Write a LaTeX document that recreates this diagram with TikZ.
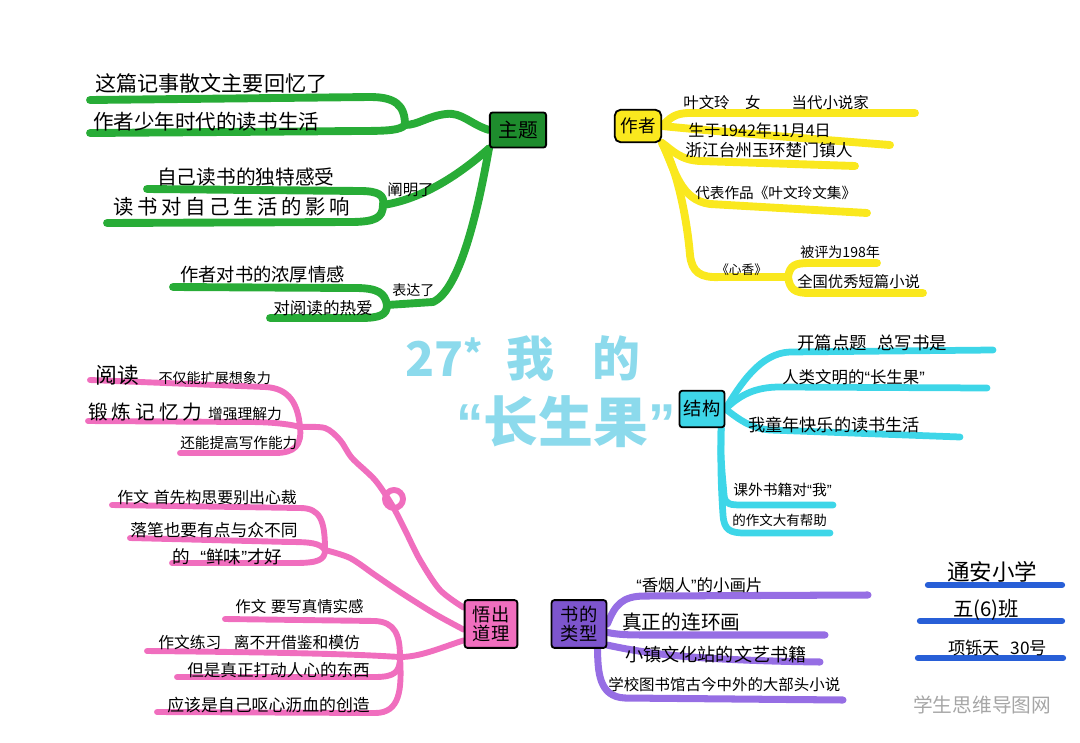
\documentclass[tikz,border=0pt]{standalone}
\usepackage{fontspec}
\setmainfont{Noto Sans CJK SC}
\newfontfamily\qtfont{Liberation Sans}
\usetikzlibrary{backgrounds}
\definecolor{zgreen}{RGB}{40,172,55}
\definecolor{zgreenbox}{RGB}{30,140,45}
\definecolor{zyellow}{RGB}{250,232,30}
\definecolor{zcyan}{RGB}{62,214,232}
\definecolor{zpink}{RGB}{240,110,190}
\definecolor{zpurple}{RGB}{150,110,228}
\definecolor{zpurplebox}{RGB}{125,85,205}
\definecolor{zblue}{RGB}{40,95,215}
\definecolor{ztitle}{RGB}{140,218,236}
\newcommand{\fsz}[1]{\fontsize{#1pt}{#1pt}\selectfont}
\newcommand{\qo}{{\qtfont “}}
\newcommand{\qc}{{\qtfont ”}}
\begin{document}
\begin{tikzpicture}[x=0.025cm, y=-0.025cm,
    lbl/.style={anchor=west, inner sep=0pt},
    topic/.style={draw=black, line width=1.3pt, rounded corners=2pt, inner sep=1pt, align=center},
    gline/.style={draw=zgreen, line width=5.6pt, line cap=round, line join=round},
    yline/.style={draw=zyellow, line width=5.6pt, line cap=round, line join=round},
    cline/.style={draw=zcyan, line width=4.8pt, line cap=round, line join=round},
    pline/.style={draw=zpink, line width=4.2pt, line cap=round, line join=round},
    sline/.style={draw=zpurple, line width=5pt, line cap=round, line join=round},
    bline/.style={draw=zblue, line width=4.5pt, line cap=round}]
  \useasboundingbox (0,0) rectangle (1080,743);
  % titolo centrale
  \node[lbl, text=ztitle, font=\bfseries\fsz{34}] (ttl1) at (405,358)
    {27\raisebox{6pt}{\fsz{26}*}\hspace{0.5em}我\hspace{0.8em}的};
  \node[lbl, text=ztitle, font=\bfseries\fsz{39}] (ttl2) at (456,422) {\qo 长生果\qc};
  % nodi principali
  \node[topic, fill=zgreenbox, minimum width=40pt, minimum height=25pt, font=\fsz{14}] (zt) at (518,130) {主题};
  \node[topic, fill=zyellow, minimum width=33pt, minimum height=23pt, rounded corners=4pt, font=\fsz{12.5}] (zz) at (638,126) {作者};
  \node[topic, fill=zcyan, minimum width=32pt, minimum height=26pt, font=\fsz{13}] (jg) at (702,409) {结构};
  \node[topic, fill=zpink, minimum width=37.5pt, minimum height=34pt, font=\fsz{13}] (wd) at (491,624) {悟出\\道理};
  \node[topic, fill=zpurplebox, minimum width=39pt, minimum height=34pt, font=\fsz{13}] (sl) at (579,624) {书的\\类型};
  % ramo verde
  \node[lbl, font=\fsz{15}] (g1) at (95,83) {这篇记事散文主要回忆了};
  \node[lbl, font=\fsz{14.6}] (g2) at (93,122) {作者少年时代的读书生活};
  \node[lbl, font=\fsz{14}] (g3) at (157,177) {自己读书的独特感受};
  \node[lbl, font=\fsz{14.5}\addfontfeatures{LetterSpace=18}] (g4) at (113,207) {读书对自己生活的影响};
  \node[lbl, font=\fsz{11}] (g5) at (387,190) {阐明了};
  \node[lbl, font=\fsz{13}] (g6) at (180,275) {作者对书的浓厚情感};
  \node[lbl, font=\fsz{11.8}] (g7) at (273,308) {对阅读的热爱};
  \node[lbl, font=\fsz{10}] (g8) at (392,290) {表达了};
  \coordinate (gj1) at (405,125);
  \coordinate (gj2) at (383,205);
  \coordinate (gj3) at (387,305);
  \coordinate (g1e) at (90,100);
  \coordinate (g2e) at (90,133);
  \coordinate (g3e) at (147,189);
  \coordinate (g4e) at (107,223);
  \coordinate (g5e) at (173,287);
  \coordinate (g6e) at (270,318);
  % ramo giallo
  \node[lbl, font=\fsz{11}] (y1) at (683,103) {叶文玲\hspace{1em}女\hspace{2em}当代小说家};
  \node[lbl, font=\fsz{11.4}] (y2) at (688,130) {生于1942年11月4日};
  \node[lbl, font=\fsz{11.9}] (y3) at (685,150) {浙江台州玉环楚门镇人};
  \node[lbl, font=\fsz{10.4}] (y4) at (695,193) {代表作品《叶文玲文集》};
  \node[lbl, font=\fsz{9}] (y5) at (716,270) {《心香》};
  \node[lbl, font=\fsz{10}] (y6) at (800,252) {被评为198年};
  \node[lbl, font=\fsz{10.9}] (y7) at (797,282) {全国优秀短篇小说};
  \coordinate (yj) at (788,277);
  \coordinate (y1e) at (915,113);
  \coordinate (y2e) at (890,145);
  \coordinate (y3e) at (855,166);
  \coordinate (y4e) at (867,213);
  \coordinate (y5e) at (877,263);
  \coordinate (y6e) at (923,293);
  % ramo azzurro
  \node[lbl, font=\fsz{12.4}] (c1) at (797,343) {开篇点题\hspace{0.6em}总写书是};
  \node[lbl, font=\fsz{11.7}] (c2) at (782,377) {人类文明的\qo 长生果\qc};
  \node[lbl, font=\fsz{12.2}] (c3) at (748,425) {我童年快乐的读书生活};
  \node[lbl, font=\fsz{10.5}] (c4) at (733,490) {课外书籍对\qo 我\qc};
  \node[lbl, font=\fsz{9.6}] (c5) at (732,520) {的作文大有帮助};
  \coordinate (c1e) at (993,350);
  \coordinate (c2e) at (987,388);
  \coordinate (c3e) at (960,437);
  \coordinate (c4e) at (833,505);
  \coordinate (c5e) at (830,533);
  % ramo rosa
  \node[lbl, font=\fsz{10}] (p1) at (95,375) {{\fsz{15.5}阅读}\hspace{1.4em}不仅能扩展想象力};
  \node[lbl, font=\fsz{10.5}] (p2) at (88,412) {{\fsz{14}\addfontfeatures{LetterSpace=20}锻炼记忆力}\hspace{4pt}增强理解力};
  \node[lbl, font=\fsz{10.4}] (p3) at (180,443) {还能提高写作能力};
  \node[lbl, font=\fsz{11.3}] (p4) at (117,497) {作文\hspace{0.3em}首先构思要别出心裁};
  \node[lbl, font=\fsz{11.9}] (p5) at (130,530) {落笔也要有点与众不同};
  \node[lbl, font=\fsz{12.5}] (p6) at (172,557) {的\hspace{0.6em}\qo 鲜味\qc 才好};
  \node[lbl, font=\fsz{11}] (p7) at (235,607) {作文\hspace{0.3em}要写真情实感};
  \node[lbl, font=\fsz{11.2}] (p8) at (158,642) {作文练习\hspace{0.8em}离不开借鉴和模仿};
  \node[lbl, font=\fsz{11.8}] (p9) at (187,670) {但是真正打动人心的东西};
  \node[lbl, font=\fsz{12}] (p10) at (167,705) {应该是自己呕心沥血的创造};
  \coordinate (pj1) at (300,427);
  \coordinate (pj2) at (325,550);
  \coordinate (pj3) at (400,657);
  \coordinate (pk) at (394,499);
  \coordinate (p1e) at (90,380);
  \coordinate (p2e) at (88,421);
  \coordinate (p3e) at (180,453);
  \coordinate (p4e) at (112,505);
  \coordinate (p5e) at (130,538);
  \coordinate (p6e) at (172,563);
  \coordinate (p7e) at (225,619);
  \coordinate (p8e) at (147,651);
  \coordinate (p9e) at (177,677);
  \coordinate (p10e) at (157,712);
  % ramo viola
  \node[lbl, font=\fsz{11.7}] (s1) at (636,585) {\qo 香烟人\qc 的小画片};
  \node[lbl, font=\fsz{14}] (s2) at (622,622) {真正的连环画};
  \node[lbl, font=\fsz{12.9}] (s3) at (625,655) {小镇文化站的文艺书籍};
  \node[lbl, font=\fsz{11}] (s4) at (608,685) {学校图书馆古今中外的大部头小说};
  \coordinate (s1e) at (868,595);
  \coordinate (s2e) at (825,635);
  \coordinate (s3e) at (820,662);
  \coordinate (s4e) at (843,700);
  % firma
  \node[lbl, font=\fsz{16}] (b1) at (947,572) {通安小学};
  \node[lbl, font=\fsz{14.5}] (b2) at (953,610) {五(6)班};
  \node[lbl, font=\fsz{12.3}] (b3) at (948,648) {项铄天\hspace{0.6em}30号};
  \node[lbl, font=\fsz{14}, text=black!35] (wm) at (913,705) {学生思维导图网};
  \begin{scope}[on background layer]
    % verde
    \draw[gline] (zt.west) .. controls (470,124) and (462,112) .. (446,114)
      .. controls (428,116) and (418,125) .. (gj1);
    \draw[gline] (gj1) .. controls (405,105) and (395,97) .. (370,97) -- (g1e);
    \draw[gline] (gj1) .. controls (400,130) and (390,131) .. (360,131) -- (g2e);
    \draw[gline] (zt.south west) .. controls (470,165) and (430,198) .. (gj2);
    \draw[gline] (gj2) .. controls (385,195) and (378,191) .. (360,191) -- (g3e);
    \draw[gline] (gj2) .. controls (383,218) and (375,222) .. (350,222) -- (g4e);
    \draw[gline] (zt.south west) .. controls (478,210) and (460,290) .. (433,302) -- (gj3);
    \draw[gline] (gj3) .. controls (385,293) and (378,288) .. (355,288) -- (g5e);
    \draw[gline] (gj3) .. controls (387,315) and (380,318) .. (360,318) -- (g6e);
    % giallo
    \draw[yline] (zz.east) .. controls (670,118) and (675,113) .. (690,113) -- (y1e);
    \draw[yline] (zz.east) .. controls (700,130) and (800,138) .. (y2e);
    \draw[yline] (zz.south east) .. controls (672,150) and (680,160) .. (700,161) -- (y3e);
    \draw[yline] (zz.south east) .. controls (675,170) and (680,200) .. (710,204) -- (y4e);
    \draw[yline] (zz.south east) .. controls (680,175) and (688,230) .. (690,255)
      .. controls (692,272) and (700,278) .. (720,277) -- (yj);
    \draw[yline] (yj) .. controls (790,265) and (795,263) .. (810,263) -- (y5e);
    \draw[yline] (yj) .. controls (790,290) and (795,293) .. (810,293) -- (y6e);
    % azzurro
    \draw[cline] (jg.east) .. controls (740,385) and (760,353) .. (790,352) -- (c1e);
    \draw[cline] (jg.east) .. controls (740,395) and (755,387) .. (780,387) -- (c2e);
    \draw[cline] (jg.east) .. controls (740,420) and (750,428) .. (770,430) -- (c3e);
    \draw[cline] ([xshift=-3pt]jg.south east) .. controls (720,460) and (723,480) .. (724,495)
      .. controls (725,505) and (730,505) .. (745,505) -- (c4e);
    \draw[cline] ([xshift=-3pt]jg.south east) .. controls (720,470) and (722,500) .. (723,515)
      .. controls (724,530) and (730,533) .. (745,533) -- (c5e);
    % rosa
    \draw[pline] plot[smooth] coordinates {([yshift=-6pt]wd.north west) (440,590) (420,560)
      (405,530) (392,505) (375,480) (352,458) (340,440) (325,428) (pj1)};
    \draw[pline] (pk) circle[radius=9];
    \draw[pline] (pj1) .. controls (298,405) and (290,388) .. (265,387) -- (p1e);
    \draw[pline] (pj1) .. controls (290,424) and (270,422) .. (250,422) -- (p2e);
    \draw[pline] (pj1) .. controls (302,445) and (295,453) .. (275,453) -- (p3e);
    \draw[pline] plot[smooth] coordinates {([yshift=-4pt]wd.west) (435,614) (400,592)
      (375,575) (350,558) (pj2)};
    \draw[pline] (pj2) .. controls (325,520) and (320,508) .. (300,508) -- (p4e);
    \draw[pline] (pj2) .. controls (320,543) and (310,542) .. (290,542) -- (p5e);
    \draw[pline] (pj2) .. controls (325,560) and (318,563) .. (295,563) -- (p6e);
    \draw[pline] ([yshift=6pt]wd.south west) .. controls (440,648) and (420,657) .. (pj3);
    \draw[pline] (pj3) .. controls (400,635) and (395,622) .. (375,621) -- (p7e);
    \draw[pline] (pj3) .. controls (380,656) and (350,653) .. (p8e);
    \draw[pline] (pj3) .. controls (400,672) and (395,677) .. (375,677) -- (p9e);
    \draw[pline] (pj3) .. controls (402,690) and (400,713) .. (375,713) -- (p10e);
    % viola
    \draw[sline] (sl.east) .. controls (615,605) and (622,596) .. (645,596) -- (s1e);
    \draw[sline] ([yshift=-6pt]sl.east) .. controls (620,635) and (630,635) .. (650,635) -- (s2e);
    \draw[sline] ([yshift=-15pt]sl.east) .. controls (640,652) and (680,660) .. (s3e);
    \draw[sline] ([xshift=-7pt]sl.south east) .. controls (598,670) and (598,697) .. (625,698) -- (s4e);
    % blu
    \draw[bline] (928,585) -- (1062,585);
    \draw[bline] (920,621) -- (1062,621);
    \draw[bline] (918,658) -- (1063,658);
  \end{scope}
\end{tikzpicture}
\end{document}
